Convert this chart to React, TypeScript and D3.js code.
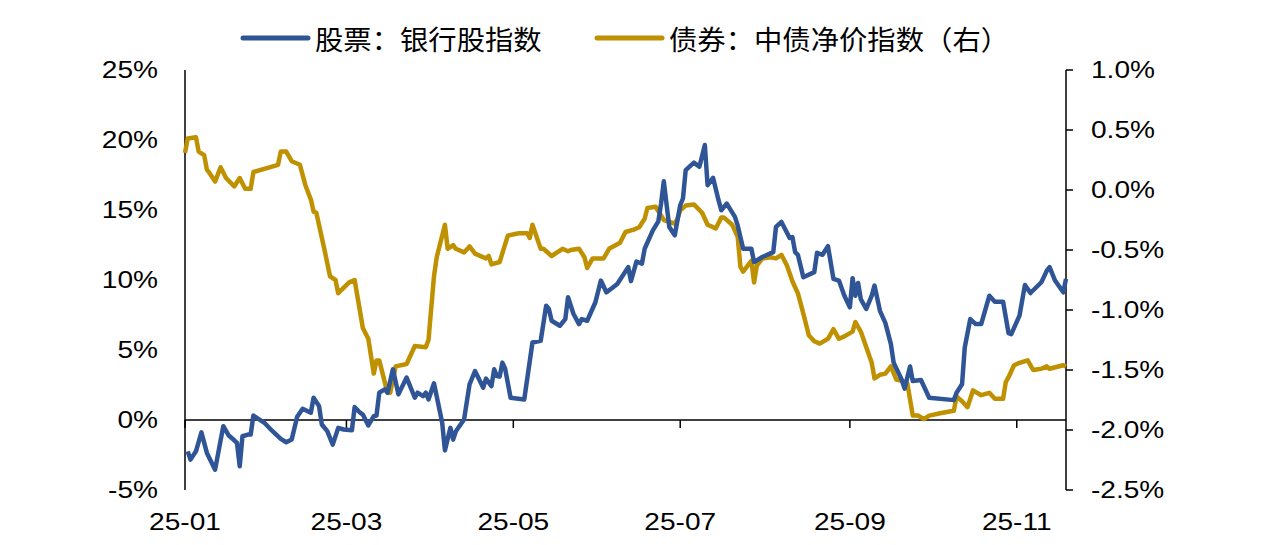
import { useEffect, useRef } from "react";
import * as d3 from "d3";

// 股票：银行股指数（左轴，%）
const stockDates = [
  "2025-01-02", "2025-01-03", "2025-01-05", "2025-01-07", "2025-01-09", "2025-01-12", "2025-01-15", "2025-01-17",
  "2025-01-19", "2025-01-20", "2025-01-21", "2025-01-22", "2025-01-24", "2025-01-25", "2025-01-26", "2025-01-30",
  "2025-02-02", "2025-02-05", "2025-02-07", "2025-02-09", "2025-02-11", "2025-02-13", "2025-02-16", "2025-02-17",
  "2025-02-19", "2025-02-20", "2025-02-22", "2025-02-24", "2025-02-26", "2025-02-28", "2025-03-03", "2025-03-04",
  "2025-03-06", "2025-03-07", "2025-03-09", "2025-03-11", "2025-03-12", "2025-03-13", "2025-03-15", "2025-03-16",
  "2025-03-18", "2025-03-20", "2025-03-23", "2025-03-26", "2025-03-27", "2025-03-29", "2025-03-30", "2025-03-31",
  "2025-04-02", "2025-04-05", "2025-04-06", "2025-04-08", "2025-04-09", "2025-04-10", "2025-04-13", "2025-04-15",
  "2025-04-17", "2025-04-20", "2025-04-21", "2025-04-23", "2025-04-24", "2025-04-25", "2025-04-26", "2025-04-27",
  "2025-04-28", "2025-04-30", "2025-05-05", "2025-05-08", "2025-05-11", "2025-05-13", "2025-05-14", "2025-05-15",
  "2025-05-18", "2025-05-20", "2025-05-21", "2025-05-23", "2025-05-25", "2025-05-26", "2025-05-28", "2025-05-31",
  "2025-06-02", "2025-06-04", "2025-06-06", "2025-06-08", "2025-06-12", "2025-06-13", "2025-06-15", "2025-06-17",
  "2025-06-18", "2025-06-21", "2025-06-23", "2025-06-24", "2025-06-25", "2025-06-27", "2025-06-29", "2025-07-01",
  "2025-07-02", "2025-07-03", "2025-07-06", "2025-07-08", "2025-07-10", "2025-07-11", "2025-07-13", "2025-07-15",
  "2025-07-16", "2025-07-18", "2025-07-21", "2025-07-22", "2025-07-24", "2025-07-27", "2025-07-28", "2025-07-31",
  "2025-08-04", "2025-08-05", "2025-08-07", "2025-08-10", "2025-08-11", "2025-08-12", "2025-08-13", "2025-08-15",
  "2025-08-19", "2025-08-20", "2025-08-22", "2025-08-24", "2025-08-26", "2025-08-28", "2025-08-30", "2025-09-01",
  "2025-09-02", "2025-09-03", "2025-09-04", "2025-09-05", "2025-09-07", "2025-09-09", "2025-09-10", "2025-09-12",
  "2025-09-14", "2025-09-16", "2025-09-17", "2025-09-20", "2025-09-21", "2025-09-23", "2025-09-24", "2025-09-27",
  "2025-09-30", "2025-10-09", "2025-10-10", "2025-10-12", "2025-10-13", "2025-10-15", "2025-10-17", "2025-10-19",
  "2025-10-22", "2025-10-24", "2025-10-27", "2025-10-29", "2025-10-30", "2025-11-02", "2025-11-04", "2025-11-06",
  "2025-11-10", "2025-11-12", "2025-11-13", "2025-11-15", "2025-11-18", "2025-11-19",
];
const stockValues = [
  -2.24, -2.83, -2.24, -0.88, -2.35, -3.55, -0.44, -1.11,
  -1.45, -1.64, -3.31, -1.16, -1.04, -1.04, 0.32, -0.2,
  -0.8, -1.35, -1.59, -1.4, 0.23, 0.8, 0.52, 1.59,
  0.99, -0.32, -0.8, -1.76, -0.56, -0.68, -0.73, 0.92,
  0.52, 0.39, -0.39, 0.27, 0.32, 1.95, 2.19, 1.95,
  3.62, 1.83, 3.03, 1.59, 1.95, 1.71, 1.95, 1.47,
  2.62, -0.2, -2.17, -0.56, -1.4, -0.8, 0.04, 2.55,
  3.5, 2.31, 2.96, 2.42, 3.62, 3.14, 3.1, 4.1,
  3.67, 1.59, 1.47, 5.54, 5.65, 8.16, 7.93, 7.09,
  6.73, 7.21, 8.77, 7.57, 6.85, 7.21, 7.09, 8.41,
  9.96, 9.12, 9.41, 9.72, 10.92, 9.92, 11.32, 11.16,
  12.23, 13.54, 14.19, 15.46, 17.06, 13.79, 13.19, 15.34,
  15.82, 17.85, 18.38, 18.09, 19.64, 16.77, 17.3, 15.7,
  14.98, 15.46, 14.51, 13.9, 12.23, 12.23, 11.28, 11.64,
  11.99, 13.79, 14.15, 13.0, 13.07, 11.99, 11.8, 10.2,
  10.56, 11.94, 11.8, 12.42, 10.08, 9.96, 8.88, 8.05,
  10.13, 8.88, 9.79, 8.64, 7.93, 8.88, 9.6, 7.8,
  6.92, 5.42, 4.1, 2.86, 2.24, 3.82, 2.78, 2.86,
  1.59, 1.42, 1.95, 2.55, 5.18, 7.21, 6.85, 6.85,
  8.88, 8.45, 8.45, 6.21, 6.13, 7.45, 9.65, 9.07,
  9.84, 10.67, 10.92, 9.96, 9.12, 10.08,
];

// 债券：中债净价指数（右轴，%）
const bondDates = [
  "2025-01-01", "2025-01-02", "2025-01-05", "2025-01-06", "2025-01-08", "2025-01-09", "2025-01-10", "2025-01-12",
  "2025-01-14", "2025-01-16", "2025-01-19", "2025-01-21", "2025-01-23", "2025-01-25", "2025-01-26", "2025-02-04",
  "2025-02-05", "2025-02-07", "2025-02-09", "2025-02-12", "2025-02-14", "2025-02-16", "2025-02-17", "2025-02-18",
  "2025-02-21", "2025-02-23", "2025-02-25", "2025-02-26", "2025-03-02", "2025-03-04", "2025-03-07", "2025-03-09",
  "2025-03-11", "2025-03-12", "2025-03-13", "2025-03-16", "2025-03-17", "2025-03-19", "2025-03-23", "2025-03-26",
  "2025-03-30", "2025-03-31", "2025-04-02", "2025-04-03", "2025-04-06", "2025-04-07", "2025-04-09", "2025-04-10",
  "2025-04-13", "2025-04-15", "2025-04-17", "2025-04-21", "2025-04-22", "2025-04-23", "2025-04-26", "2025-04-29",
  "2025-05-03", "2025-05-06", "2025-05-07", "2025-05-08", "2025-05-11", "2025-05-12", "2025-05-15", "2025-05-19",
  "2025-05-21", "2025-05-22", "2025-05-25", "2025-05-27", "2025-05-28", "2025-05-30", "2025-06-03", "2025-06-05",
  "2025-06-09", "2025-06-11", "2025-06-14", "2025-06-16", "2025-06-18", "2025-06-19", "2025-06-22", "2025-06-25",
  "2025-06-29", "2025-06-30", "2025-07-01", "2025-07-03", "2025-07-06", "2025-07-09", "2025-07-11", "2025-07-14",
  "2025-07-16", "2025-07-17", "2025-07-20", "2025-07-22", "2025-07-23", "2025-07-24", "2025-07-27", "2025-07-28",
  "2025-07-29", "2025-07-31", "2025-08-03", "2025-08-05", "2025-08-07", "2025-08-09", "2025-08-11", "2025-08-13",
  "2025-08-15", "2025-08-17", "2025-08-19", "2025-08-21", "2025-08-24", "2025-08-26", "2025-08-28", "2025-08-30",
  "2025-09-02", "2025-09-03", "2025-09-05", "2025-09-07", "2025-09-09", "2025-09-10", "2025-09-12", "2025-09-14",
  "2025-09-16", "2025-09-18", "2025-09-20", "2025-09-22", "2025-09-24", "2025-09-26", "2025-09-28", "2025-09-30",
  "2025-10-04", "2025-10-09", "2025-10-10", "2025-10-12", "2025-10-14", "2025-10-16", "2025-10-19", "2025-10-22",
  "2025-10-24", "2025-10-27", "2025-10-28", "2025-10-29", "2025-10-31", "2025-11-02", "2025-11-05", "2025-11-07",
  "2025-11-10", "2025-11-12", "2025-11-13", "2025-11-18", "2025-11-19",
];
const bondValues = [
  0.31, 0.43, 0.44, 0.32, 0.29, 0.17, 0.14, 0.07,
  0.19, 0.1, 0.03, 0.1, 0.01, 0.01, 0.15, 0.21,
  0.32, 0.32, 0.24, 0.21, 0.04, -0.08, -0.18, -0.19,
  -0.5, -0.72, -0.75, -0.86, -0.77, -0.75, -1.15, -1.24,
  -1.53, -1.42, -1.42, -1.69, -1.69, -1.47, -1.45, -1.3,
  -1.31, -1.25, -0.72, -0.56, -0.29, -0.49, -0.46, -0.49,
  -0.52, -0.47, -0.53, -0.57, -0.55, -0.62, -0.6, -0.38,
  -0.36, -0.36, -0.4, -0.29, -0.49, -0.49, -0.55, -0.49,
  -0.51, -0.5, -0.49, -0.56, -0.65, -0.57, -0.57, -0.49,
  -0.44, -0.35, -0.33, -0.31, -0.24, -0.15, -0.14, -0.25,
  -0.28, -0.24, -0.17, -0.13, -0.12, -0.19, -0.29, -0.32,
  -0.23, -0.23, -0.29, -0.39, -0.64, -0.68, -0.59, -0.77,
  -0.63, -0.57, -0.56, -0.57, -0.54, -0.63, -0.76, -0.86,
  -1.03, -1.21, -1.26, -1.28, -1.24, -1.16, -1.24, -1.22,
  -1.18, -1.1, -1.18, -1.31, -1.44, -1.57, -1.54, -1.53,
  -1.47, -1.58, -1.59, -1.61, -1.88, -1.88, -1.91, -1.88,
  -1.86, -1.84, -1.72, -1.76, -1.81, -1.67, -1.71, -1.69,
  -1.74, -1.74, -1.6, -1.56, -1.46, -1.44, -1.42, -1.5,
  -1.49, -1.47, -1.49, -1.46, -1.47,
];

const leftTicks = [-5, 0, 5, 10, 15, 20, 25];
const rightTicks = [-2.5, -2.0, -1.5, -1.0, -0.5, 0.0, 0.5, 1.0];
const xTickDates = ["2025-01-01", "2025-03-01", "2025-05-01", "2025-07-01", "2025-09-01", "2025-11-01"];
const seriesNames = ["股票：银行股指数", "债券：中债净价指数（右）"];
const seriesColors = ["#2F5597", "#BF9000"];

export default function App() {
  const svgRef = useRef<SVGSVGElement | null>(null);

  useEffect(() => {
    if (!svgRef.current) return;
    const svg = d3.select(svgRef.current);
    svg.selectAll("*").remove();

    const width = 1280;
    const height = 545;
    const left = 185;
    const right = 1066;
    const top = 70;
    const bottom = 490;
    const numFont = "'Liberation Sans', Arial, sans-serif";
    const cjkFont = "'Noto Sans CJK SC', sans-serif";
    const stretch = 1.17;

    svg.attr("width", width).attr("height", height);

    const parse = d3.timeParse("%Y-%m-%d");
    const x = d3
      .scaleTime()
      .domain([parse("2025-01-01")!, parse("2025-11-19")!])
      .range([left, right]);
    const yL = d3.scaleLinear().domain([-5, 25]).range([bottom, top]);
    const yR = d3.scaleLinear().domain([-2.5, 1.0]).range([bottom, top]);

    const stock = stockDates.map((d, i) => ({ date: parse(d)!, value: stockValues[i] }));
    const bond = bondDates.map((d, i) => ({ date: parse(d)!, value: bondValues[i] }));

    // 横向略拉宽的刻度文字
    const label = (px: number, py: number, text: string, anchor: string) => {
      svg
        .append("g")
        .attr("transform", `translate(${px},${py}) scale(${stretch},1)`)
        .append("text")
        .attr("text-anchor", anchor)
        .attr("dominant-baseline", "central")
        .attr("font-family", numFont)
        .attr("font-size", 24)
        .attr("fill", "#000")
        .text(text);
    };

    // left axis
    svg
      .append("line")
      .attr("x1", left)
      .attr("x2", left)
      .attr("y1", top)
      .attr("y2", bottom)
      .attr("stroke", "#000")
      .attr("stroke-width", 1.5);
    leftTicks.forEach((t) => label(left - 27, yL(t), `${t}%`, "end"));

    // right axis
    svg
      .append("line")
      .attr("x1", right)
      .attr("x2", right)
      .attr("y1", top)
      .attr("y2", bottom)
      .attr("stroke", "#000")
      .attr("stroke-width", 1.5);
    rightTicks.forEach((t) => {
      svg
        .append("line")
        .attr("x1", right)
        .attr("x2", right + 7)
        .attr("y1", yR(t))
        .attr("y2", yR(t))
        .attr("stroke", "#000")
        .attr("stroke-width", 1.5);
      label(right + 25, yR(t), `${t.toFixed(1)}%`, "start");
    });

    // x axis at 0%
    const y0 = yL(0);
    svg
      .append("line")
      .attr("x1", left)
      .attr("x2", right)
      .attr("y1", y0)
      .attr("y2", y0)
      .attr("stroke", "#000")
      .attr("stroke-width", 1.5);
    const fmt = d3.timeFormat("%y-%m");
    xTickDates.forEach((d) => {
      const px = x(parse(d)!);
      svg
        .append("line")
        .attr("x1", px)
        .attr("x2", px)
        .attr("y1", y0)
        .attr("y2", y0 + 8)
        .attr("stroke", "#000")
        .attr("stroke-width", 1.5);
      label(px, 522, fmt(parse(d)!), "middle");
    });

    // lines
    const lineL = d3
      .line<{ date: Date; value: number }>()
      .x((d) => x(d.date))
      .y((d) => yL(d.value));
    const lineR = d3
      .line<{ date: Date; value: number }>()
      .x((d) => x(d.date))
      .y((d) => yR(d.value));

    svg
      .append("path")
      .datum(bond)
      .attr("d", lineR)
      .attr("fill", "none")
      .attr("stroke", seriesColors[1])
      .attr("stroke-width", 4.5)
      .attr("stroke-linejoin", "round");
    svg
      .append("path")
      .datum(stock)
      .attr("d", lineL)
      .attr("fill", "none")
      .attr("stroke", seriesColors[0])
      .attr("stroke-width", 4.5)
      .attr("stroke-linejoin", "round");

    // legend
    const legendX = [243, 597];
    seriesNames.forEach((name, i) => {
      svg
        .append("line")
        .attr("x1", legendX[i])
        .attr("x2", legendX[i] + 65)
        .attr("y1", 38)
        .attr("y2", 38)
        .attr("stroke", seriesColors[i])
        .attr("stroke-width", 5)
        .attr("stroke-linecap", "round");
      svg
        .append("g")
        .attr("transform", `translate(${legendX[i] + 72},38) scale(1.05,1)`)
        .append("text")
        .attr("dominant-baseline", "central")
        .attr("font-family", cjkFont)
        .attr("font-size", 27)
        .attr("fill", "#000")
        .text(name);
    });
  }, []);

  return (
    <svg
      ref={svgRef}
      style={{ position: "absolute", left: 0, top: 0, background: "#fff" }}
    />
  );
}
